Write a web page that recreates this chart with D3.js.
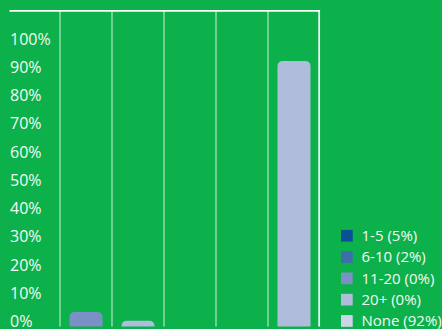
<!DOCTYPE html>
<html>
<head>
<meta charset="utf-8">
<script src="https://cdn.jsdelivr.net/npm/d3@7/dist/d3.min.js"></script>
<style>
  html, body { margin: 0; padding: 0; background: #0db14b; }
  svg { display: block; }
  text { font-family: "Open Sans", "Noto Sans", sans-serif; fill: #f2faf4; }
</style>
</head>
<body>
<svg id="chart" width="442" height="329"></svg>
<script>
// Survey answer groups and their shares (percent)
const categories = ["1-5", "6-10", "11-20", "20+", "None"];
const values = [5, 2, 0, 0, 92];
const legendLabels = ["1-5 (5%)", "6-10 (2%)", "11-20 (0%)", "20+ (0%)", "None (92%)"];
const tickValues = [0, 10, 20, 30, 40, 50, 60, 70, 80, 90, 100];

const legendColors = ["#0b4f96", "#3e6eaa", "#7b90c4", "#b0bcdc", "#cdd4e8"];
const barColors = ["#7b90c4", "#b0bcdc", "#b0bcdc", "#b0bcdc", "#b0bcdc"];

const rows = categories.map((c, i) => ({ cat: c, value: values[i], color: barColors[i] }));

const svg = d3.select("#chart");

const plot = { left: 60, right: 320, top: 11, bottom: 326.5 };

const x = d3.scaleBand()
  .domain(categories)
  .range([plot.left, plot.right])
  .paddingInner(0.365)
  .paddingOuter(0.1825);

const y = d3.scaleLinear().domain([0, 100]).range([plot.bottom, 38]);
// label column is laid out on its own slightly tighter scale
const yLabel = d3.scaleLinear().domain([0, 100]).range([321, 38.5]);

// column separators
const edges = categories.map(c => x(c) - x.step() * x.paddingInner() / 2);
svg.append("g").selectAll("line").data(edges).join("line")
  .attr("x1", d => d).attr("x2", d => d)
  .attr("y1", plot.top).attr("y2", plot.bottom)
  .attr("stroke", "rgba(255,255,255,0.62)")
  .attr("stroke-width", 1.3);

// right border and top rule
svg.append("line")
  .attr("x1", plot.right - 0.8).attr("x2", plot.right - 0.8)
  .attr("y1", plot.top - 1).attr("y2", plot.bottom)
  .attr("stroke", "#ffffff").attr("stroke-width", 1.7);
svg.append("line")
  .attr("x1", 9.5).attr("x2", plot.right)
  .attr("y1", 10.8).attr("y2", 10.8)
  .attr("stroke", "#ffffff").attr("stroke-width", 1.8);

// bars with rounded tops
const r = 5.5;
function barPath(d) {
  const x0 = x(d.cat), w = x.bandwidth();
  const y0 = y(d.value), yb = plot.bottom;
  const rr = Math.min(r, (yb - y0));
  return `M${x0},${yb} L${x0},${y0 + rr} Q${x0},${y0} ${x0 + rr},${y0}` +
         ` L${x0 + w - rr},${y0} Q${x0 + w},${y0} ${x0 + w},${y0 + rr} L${x0 + w},${yb} Z`;
}
svg.append("g").selectAll("path").data(rows.filter(d => d.value > 0)).join("path")
  .attr("d", barPath)
  .attr("fill", d => d.color);

// percentage labels
const yAxis = d3.axisLeft(yLabel).tickValues(tickValues).tickFormat(d => d + "%").tickSize(0);
const ga = svg.append("g").call(yAxis);
ga.select(".domain").remove();
ga.selectAll("text")
  .attr("x", 10).attr("dx", 0).attr("dy", "0.35em")
  .attr("text-anchor", "start")
  .style("font-size", "16px")
  .attr("fill", "#f2faf4");

// legend
const lg = svg.append("g").selectAll("g").data(legendLabels).join("g")
  .attr("transform", (d, i) => `translate(341, ${235.7 + i * 21.3})`);
lg.append("rect")
  .attr("x", 0).attr("y", -5.8).attr("width", 11.7).attr("height", 11.7)
  .attr("fill", (d, i) => legendColors[i]);
lg.append("text")
  .attr("x", 20.5).attr("y", 0).attr("dy", "0.35em")
  .style("font-size", "15px")
  .text(d => d);
</script>
</body>
</html>
